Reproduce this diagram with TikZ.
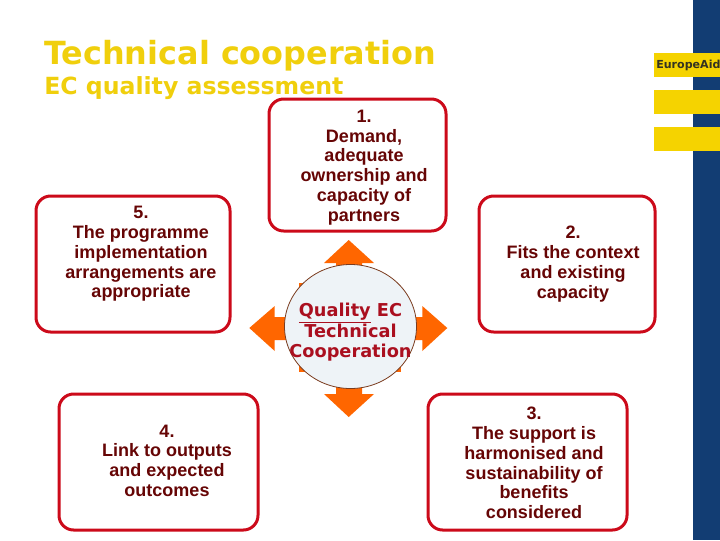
\documentclass[tikz,border=0pt]{standalone}
\usepackage{fontspec}
\setmainfont{Liberation Sans}
\newfontfamily\vera{DejaVu Sans}
\usepackage{xcolor}
\usetikzlibrary{shapes.geometric}
\definecolor{titlegold}{HTML}{F0CF0C}
\definecolor{barnavy}{HTML}{123D73}
\definecolor{tabgold}{HTML}{F5D300}
\definecolor{tabtext}{HTML}{333322}
\definecolor{boxred}{HTML}{CC0A1A}
\definecolor{textred}{HTML}{660505}
\definecolor{corered}{HTML}{AA0F1F}
\definecolor{arroworange}{HTML}{FF6600}
\definecolor{corefill}{HTML}{EEF3F7}
\definecolor{coreline}{HTML}{7A3B1E}
\tikzset{
  tab/.style={fill=tabgold, draw=none},
  boxr/.style={draw=boxred, line width=2.25pt, rounded corners=11pt, fill=white},
  lab/.style={text=textred, align=center, inner sep=0pt, font=\bfseries\fontsize{13.5}{14.8}\selectfont},
  title/.style={text=titlegold, anchor=west, inner sep=0pt},
  corelab/.style={text=corered, align=center, inner sep=0pt, font=\vera\bfseries\fontsize{13.3}{14.8}\selectfont},
  arr/.style={fill=arroworange, draw=none},
}
\begin{document}
\begin{tikzpicture}[x=0.75pt,y=-0.75pt]
  \clip (0,0) rectangle (720,540);
  \fill[white] (0,0) rectangle (720,540);
  \fill[barnavy] (693,0) rectangle (720,540);
  \fill[tab] (654,53) rectangle (720,77);
  \fill[tab] (654,90) rectangle (720,114);
  \fill[tab] (654,127) rectangle (720,151);
  \node[text=tabtext, anchor=west, inner sep=0pt, font=\vera\bfseries\fontsize{8.3}{10}\selectfont] (tabtxt) at (656,65) {EuropeAid};

  \node[title, font=\vera\bfseries\fontsize{23.9}{26}\selectfont] (maintitle) at (44,56) {Technical cooperation};
  \node[title, font=\vera\bfseries\fontsize{17.7}{20}\selectfont] (subtitle) at (44,88) {EC quality assessment};

  \node[boxr, minimum width=132.75pt, minimum height=99pt] (box1) at (357.5,165) {};
  \node[boxr, minimum width=132pt, minimum height=102pt] (box2) at (567,264) {};
  \node[boxr, minimum width=149.25pt, minimum height=102pt] (box3) at (527.5,462) {};
  \node[boxr, minimum width=149.25pt, minimum height=102pt] (box4) at (158.5,462) {};
  \node[boxr, minimum width=145.5pt, minimum height=102pt] (box5) at (133,264) {};

  \node[lab] (lab1) at (364,167.5) {1.\\Demand,\\adequate\\ownership and\\capacity of\\partners};
  \node[lab] (lab2) at (573,264) {2.\\Fits the context\\and existing\\capacity};
  \node[lab] (lab3) at (534,463) {3.\\The support is\\harmonised and\\sustainability of\\benefits\\considered};
  \node[lab] (lab4) at (167,460.5) {4.\\Link to outputs\\and expected\\outcomes};
  \node[lab] (lab5) at (141,254) {5.\\The programme\\implementation\\arrangements are\\appropriate};

  \fill[arr] (299,283) rectangle (350,372);
  \fill[arr] (350,300) rectangle (401,372);
  \fill[arr] (348.7,240) -- (374,263) -- (362,263) -- (362,394) -- (374,394) -- (348.7,417) -- (324,394) -- (336,394) -- (336,263) -- (324,263) -- cycle;
  \fill[arr] (249.3,328) -- (274.7,306) -- (274.7,317) -- (422.3,317) -- (422.3,306) -- (447.3,328) -- (422.3,351) -- (422.3,340) -- (274.7,340) -- (274.7,351) -- cycle;

  \node[ellipse, draw=coreline, line width=0.6pt, fill=corefill, minimum width=99pt, minimum height=93pt, inner sep=0pt] (core) at (350.5,326.5) {};
  \node[corelab] (corelab) at (350.5,332) {\underline{Quality} EC\\Technical\\Cooperation};
\end{tikzpicture}
\end{document}
